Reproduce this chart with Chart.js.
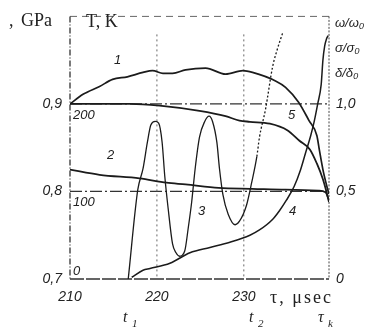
<!DOCTYPE html>
<html>
<head>
<meta charset="utf-8">
<script src="https://cdn.jsdelivr.net/npm/chart.js@4.4.1/dist/chart.umd.min.js"></script>
<style>
  html, body { margin: 0; padding: 0; background: #fff; }
  #wrap { width: 372px; height: 336px; }
</style>
</head>
<body>
<div id="wrap"><canvas id="chart" width="372" height="336"></canvas></div>
<script>
// tick values
const tauTicks = [210, 220, 230];
const pressureTicks = [0.7, 0.8, 0.9];
const tempTicks = [0, 100, 200];
const ratioTicks = [0, 0.5, 1.0];

// curve 1: temperature, K
const c1Tau = [210, 211.5, 213.4, 214.9, 216.6, 218.4, 219.5, 220.7, 221.8, 223.3, 225.6, 227.9, 229.9, 231.0, 233.7, 234.8, 236.3, 237.5, 238.4, 238.7, 239.1, 239.5, 239.8];
const c1Temp = [200, 211, 220, 228, 231, 236, 238, 235, 235, 239, 241, 234, 238, 236, 226, 219, 202, 181, 164, 147, 125, 108, 97];

// curve 2: pressure, GPa
const c2Tau = [210, 213.4, 218.0, 221.1, 223.3, 227.1, 231.0, 234.8, 238.6, 239.4, 239.8];
const c2Pres = [0.825, 0.819, 0.815, 0.810, 0.808, 0.804, 0.803, 0.802, 0.801, 0.799, 0.790];

// curve 3: oscillating ratio
const c3Tau = [216.7, 217.8, 218.4, 218.9, 219.3, 219.8, 220.2, 220.6, 220.9, 221.3, 221.8, 222.2, 222.6, 223.2, 223.6, 224.0, 224.4, 224.9, 225.5, 226.0, 226.4, 226.9, 227.2, 227.6, 228.2, 229.0, 229.5, 230.3, 230.9, 231.5, 231.8, 232.5, 233.3, 233.9, 234.5];
const c3Ratio = [0, 0.51, 0.63, 0.78, 0.88, 0.90, 0.89, 0.78, 0.59, 0.40, 0.20, 0.15, 0.13, 0.16, 0.29, 0.44, 0.63, 0.81, 0.90, 0.93, 0.90, 0.78, 0.63, 0.48, 0.37, 0.31, 0.33, 0.42, 0.55, 0.70, 0.81, 0.97, 1.21, 1.32, 1.41];

// curve 4: rising ratio
const c4Tau = [217.1, 218.4, 219.2, 221.5, 223.8, 226.1, 228.4, 230.7, 231.8, 233.3, 234.1, 234.9, 235.8, 236.5, 237.1, 237.7, 238.1, 238.5, 238.9, 239.1, 239.3, 239.5, 239.7];
const c4Ratio = [0.01, 0.05, 0.06, 0.09, 0.15, 0.18, 0.21, 0.25, 0.28, 0.34, 0.39, 0.45, 0.53, 0.62, 0.72, 0.82, 0.90, 1.00, 1.11, 1.25, 1.33, 1.37, 1.39];

// curve 5: falling ratio
const c5Tau = [210, 216.9, 220.3, 224.9, 227.9, 229.5, 230.7, 233.0, 235.0, 236.4, 237.6, 238.4, 239.1, 239.5, 239.8];
const c5Ratio = [1.0, 1.0, 0.99, 0.96, 0.93, 0.905, 0.898, 0.887, 0.85, 0.79, 0.74, 0.66, 0.57, 0.50, 0.44];

const INK = "#1b1b1b";
const pts = (xs, ys) => xs.map((x, i) => ({ x, y: ys[i] }));
const comma = v => String(v).replace(".", ",");

function curve(label, data, axis, width, extra) {
  return Object.assign({
    label, data, yAxisID: axis,
    borderColor: INK, borderWidth: width,
    pointRadius: 0, fill: false,
    cubicInterpolationMode: "monotone"
  }, extra || {});
}

const framePlugin = {
  id: "frame",
  beforeDatasetsDraw(chart) {
    const { ctx, chartArea: a, scales } = chart;
    const line = (x1, y1, x2, y2, w, dash, col) => {
      ctx.beginPath();
      ctx.setLineDash(dash);
      ctx.lineWidth = w;
      ctx.strokeStyle = col || "#333";
      ctx.moveTo(x1, y1);
      ctx.lineTo(x2, y2);
      ctx.stroke();
    };
    ctx.save();
    line(a.left, a.top, a.right, a.top, 1, [7, 5], "#666");
    line(a.left, a.top, a.left, a.bottom, 1.3, [6, 2, 1, 2]);
    line(a.right, a.top, a.right, a.bottom, 1, [2, 1.5], "#444");
    line(a.left, a.bottom, a.right, a.bottom, 1.7, [14, 2]);
    for (const v of [0.9, 0.8]) {
      const y = scales.yP.getPixelForValue(v);
      line(a.left, y, a.right, y, 1.2, [12, 3, 2, 3]);
    }
    for (const v of [220, 230]) {
      const x = scales.x.getPixelForValue(v);
      line(x, a.top + 18, x, a.bottom, 1, [2, 3], "#666");
    }
    ctx.restore();
  }
};

const textPlugin = {
  id: "texts",
  afterDraw(chart) {
    const { ctx, scales } = chart;
    ctx.save();
    ctx.fillStyle = "#222";
    ctx.textBaseline = "middle";
    ctx.textAlign = "left";
    ctx.font = "18px 'Liberation Serif'";
    ctx.fillText(",", 9, 21);
    ctx.fillText("GPa", 21, 21);
    ctx.fillText("T, K", 86, 22);
    ctx.letterSpacing = "2px";
    ctx.fillText("τ, μsec", 270, 298);
    ctx.letterSpacing = "0px";

    // temperature labels inside the plot
    ctx.font = "italic 13px 'Liberation Sans'";
    const yT = scales.yT;
    const tOff = { 0: -8, 100: 11, 200: 11 };
    for (const v of tempTicks) {
      ctx.fillText(String(v), 73, yT.getPixelForValue(v) + tOff[v]);
    }

    // curve numbers
    const nums = [["1", 114, 60], ["2", 107, 155], ["3", 198, 211], ["4", 289, 211], ["5", 288, 115]];
    for (const [t, x, y] of nums) ctx.fillText(t, x, y);

    // right axis titles
    ctx.font = "italic 13px 'Liberation Sans'";
    ctx.fillText("ω/ω₀", 335, 23);
    ctx.fillText("σ/σ₀", 335, 48);
    ctx.fillText("δ/δ₀", 335, 73);

    // time marks
    ctx.font = "italic 16px 'Liberation Serif'";
    ctx.fillText("t", 123, 318);
    ctx.fillText("t", 249, 318);
    ctx.fillText("τ", 318, 318);
    ctx.font = "italic 11px 'Liberation Serif'";
    ctx.fillText("1", 132, 324);
    ctx.fillText("2", 258, 324);
    ctx.fillText("k", 328, 324);
    ctx.restore();
  }
};

const tickFont = { family: "Liberation Sans", style: "italic", size: 14 };

new Chart(document.getElementById("chart"), {
  type: "line",
  data: {
    datasets: [
      curve("1", pts(c1Tau, c1Temp), "yT", 1.7),
      curve("2", pts(c2Tau, c2Pres), "yP", 1.7),
      curve("3", pts(c3Tau, c3Ratio), "yR", 1.3, {
        segment: { borderDash: s => s.p0.parsed.x > 231.4 ? [2, 2] : undefined }
      }),
      curve("4", pts(c4Tau, c4Ratio), "yR", 1.5),
      curve("5", pts(c5Tau, c5Ratio), "yR", 1.8)
    ]
  },
  options: {
    responsive: false,
    animation: false,
    layout: { padding: { top: 10, left: 0, right: 0, bottom: 0 } },
    plugins: { legend: { display: false }, tooltip: { enabled: false } },
    scales: {
      x: {
        type: "linear", position: "bottom", min: 210, max: 239.8,
        grid: { display: false, drawTicks: false }, border: { display: false },
        afterBuildTicks: s => { s.ticks = tauTicks.map(v => ({ value: v })); },
        afterFit: s => { s.height = 57; },
        ticks: { autoSkip: false, maxRotation: 0, padding: 10, color: "#222", font: tickFont,
          callback: v => String(v) }
      },
      yP: {
        type: "linear", position: "left", min: 0.7, max: 1.0,
        grid: { display: false, drawTicks: false }, border: { display: false },
        afterBuildTicks: s => { s.ticks = pressureTicks.map(v => ({ value: v })); },
        afterFit: s => { s.width = 70; },
        ticks: { autoSkip: false, padding: 8, color: "#222", font: tickFont,
          callback: v => comma(v.toFixed(1)) }
      },
      yT: { type: "linear", display: false, min: 0, max: 300 },
      yR: {
        type: "linear", position: "right", min: 0, max: 1.5,
        grid: { display: false, drawTicks: false }, border: { display: false },
        afterBuildTicks: s => { s.ticks = ratioTicks.map(v => ({ value: v })); },
        afterFit: s => { s.width = 43; },
        ticks: { autoSkip: false, padding: 7, color: "#222", font: tickFont,
          callback: v => v === 0 ? "0" : comma(v.toFixed(1)) }
      }
    }
  },
  plugins: [framePlugin, textPlugin]
});
</script>
</body>
</html>
